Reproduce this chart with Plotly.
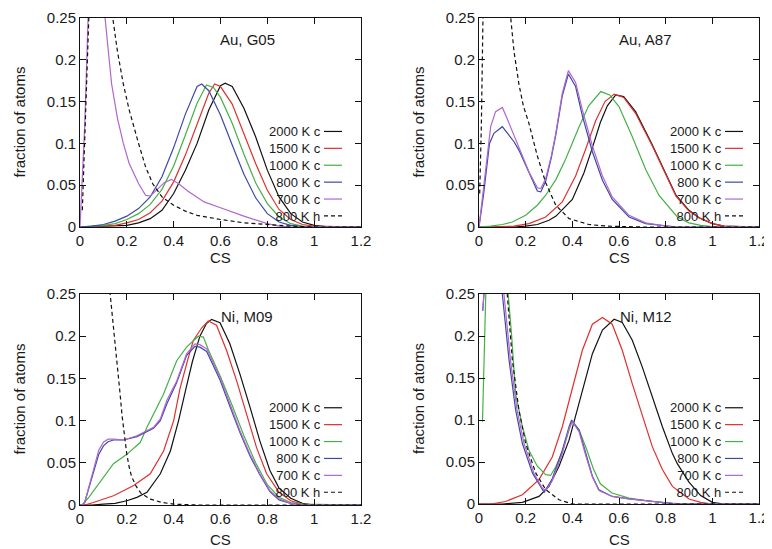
import plotly.graph_objects as go

# ---------------- data ----------------
series_names = ["2000 K c", "1500 K c", "1000 K c", "800 K c", "700 K c", "800 K h"]
panel_labels = ["Au, G05", "Au, A87", "Ni, M09", "Ni, M12"]
x_ticks = [0, 0.2, 0.4, 0.6, 0.8, 1.0, 1.2]
x_tick_text = ["0", "0.2", "0.4", "0.6", "0.8", "1", "1.2"]
y_ticks = [0, 0.05, 0.1, 0.15, 0.2, 0.25]
y_tick_text = ["0", "0.05", "0.1", "0.15", "0.2", "0.25"]

# Panel 1: Au, G05
g05_2000_x = [0, 0.05, 0.1, 0.15, 0.2, 0.25, 0.3, 0.35, 0.4, 0.45, 0.5, 0.55, 0.6, 0.62, 0.65, 0.7, 0.75, 0.8, 0.85, 0.9, 0.95, 1.0, 1.05, 1.1, 1.2]
g05_2000_y = [0, 0.0003, 0.0006, 0.001, 0.002, 0.005, 0.01, 0.02, 0.04, 0.068, 0.1, 0.14, 0.169, 0.172, 0.168, 0.142, 0.108, 0.068, 0.036, 0.016, 0.006, 0.002, 0.0006, 0.0002, 0]
g05_1500_x = [0, 0.05, 0.1, 0.15, 0.2, 0.25, 0.3, 0.35, 0.4, 0.45, 0.5, 0.55, 0.575, 0.6, 0.65, 0.7, 0.75, 0.8, 0.85, 0.9, 0.95, 1.0, 1.2]
g05_1500_y = [0, 0.0005, 0.001, 0.002, 0.005, 0.009, 0.017, 0.031, 0.054, 0.086, 0.123, 0.16, 0.171, 0.168, 0.147, 0.112, 0.076, 0.044, 0.021, 0.009, 0.003, 0.001, 0]
g05_1000_x = [0, 0.05, 0.1, 0.15, 0.2, 0.25, 0.3, 0.35, 0.4, 0.45, 0.5, 0.54, 0.57, 0.6, 0.65, 0.7, 0.75, 0.8, 0.85, 0.9, 0.95, 1.0, 1.2]
g05_1000_y = [0, 0.0007, 0.002, 0.004, 0.009, 0.016, 0.027, 0.045, 0.073, 0.11, 0.148, 0.17, 0.167, 0.155, 0.124, 0.087, 0.053, 0.028, 0.012, 0.004, 0.001, 0.0003, 0]
g05_800_x = [0, 0.05, 0.1, 0.15, 0.2, 0.25, 0.3, 0.35, 0.4, 0.45, 0.5, 0.52, 0.55, 0.6, 0.65, 0.7, 0.75, 0.8, 0.85, 0.9, 0.95, 1.0, 1.2]
g05_800_y = [0, 0.001, 0.003, 0.007, 0.013, 0.022, 0.036, 0.06, 0.095, 0.135, 0.168, 0.171, 0.163, 0.134, 0.098, 0.063, 0.035, 0.016, 0.006, 0.002, 0.0005, 0, 0]
g05_700_x = [0, 0.02, 0.04, 0.07, 0.107, 0.12, 0.135, 0.16, 0.185, 0.21, 0.25, 0.28, 0.3, 0.33, 0.36, 0.39, 0.42, 0.46, 0.5, 0.53, 0.6, 0.7, 0.8, 0.85, 0.9, 1.0, 1.2]
g05_700_y = [0, 0.12, 0.3, 0.36, 0.25, 0.21, 0.171, 0.13, 0.1, 0.076, 0.052, 0.038, 0.037, 0.045, 0.053, 0.057, 0.052, 0.043, 0.035, 0.03, 0.023, 0.013, 0.004, 0.001, 0, 0, 0]
g05_800h_x = [0.01, 0.02, 0.03, 0.04, 0.06, 0.1, 0.14, 0.16, 0.185, 0.21, 0.25, 0.28, 0.31, 0.35, 0.4, 0.45, 0.5, 0.6, 0.7, 0.8, 0.9, 1.0, 1.2]
g05_800h_y = [0.02, 0.1, 0.2, 0.27, 0.4, 0.4, 0.25, 0.21, 0.171, 0.14, 0.1, 0.072, 0.052, 0.036, 0.026, 0.019, 0.014, 0.009, 0.005, 0.003, 0.001, 0, 0]

# Panel 2: Au, A87
a87_2000_x = [0, 0.15, 0.2, 0.25, 0.3, 0.33, 0.4, 0.45, 0.486, 0.52, 0.55, 0.586, 0.62, 0.671, 0.743, 0.8, 0.844, 0.9, 0.943, 1.0, 1.05, 1.2]
a87_2000_y = [0, 0, 0.001, 0.003, 0.008, 0.013, 0.033, 0.065, 0.095, 0.125, 0.145, 0.158, 0.156, 0.138, 0.098, 0.063, 0.038, 0.02, 0.011, 0.004, 0.001, 0]
a87_1500_x = [0, 0.1, 0.15, 0.214, 0.286, 0.357, 0.414, 0.457, 0.5, 0.54, 0.579, 0.62, 0.671, 0.743, 0.8, 0.844, 0.9, 0.943, 1.0, 1.05, 1.2]
a87_1500_y = [0, 0.0005, 0.001, 0.004, 0.012, 0.03, 0.061, 0.093, 0.127, 0.15, 0.159, 0.155, 0.136, 0.097, 0.062, 0.037, 0.019, 0.011, 0.004, 0.001, 0]
a87_1000_x = [0, 0.05, 0.1, 0.143, 0.2, 0.25, 0.286, 0.33, 0.371, 0.429, 0.47, 0.522, 0.56, 0.6, 0.657, 0.714, 0.771, 0.85, 0.9, 0.95, 1.0, 1.2]
a87_1000_y = [0, 0.001, 0.003, 0.006, 0.014, 0.026, 0.038, 0.057, 0.081, 0.12, 0.145, 0.162, 0.158, 0.144, 0.108, 0.069, 0.038, 0.012, 0.005, 0.002, 0.0005, 0]
a87_800_x = [0, 0.02, 0.045, 0.064, 0.1, 0.12, 0.15, 0.171, 0.2, 0.214, 0.25, 0.265, 0.286, 0.31, 0.329, 0.357, 0.383, 0.414, 0.443, 0.486, 0.529, 0.571, 0.643, 0.714, 0.8, 0.85, 1.2]
a87_800_y = [0, 0.04, 0.1, 0.112, 0.12, 0.113, 0.102, 0.092, 0.074, 0.064, 0.043, 0.042, 0.055, 0.083, 0.11, 0.157, 0.183, 0.168, 0.133, 0.09, 0.056, 0.033, 0.012, 0.004, 0.001, 0, 0]
a87_700_x = [0, 0.02, 0.05, 0.071, 0.1, 0.12, 0.15, 0.171, 0.2, 0.214, 0.25, 0.265, 0.286, 0.31, 0.329, 0.357, 0.383, 0.414, 0.443, 0.486, 0.529, 0.571, 0.643, 0.714, 0.8, 0.85, 1.2]
a87_700_y = [0, 0.05, 0.12, 0.138, 0.143, 0.13, 0.11, 0.094, 0.075, 0.066, 0.047, 0.046, 0.058, 0.085, 0.112, 0.16, 0.187, 0.173, 0.14, 0.097, 0.061, 0.036, 0.014, 0.005, 0.001, 0, 0]
a87_800h_x = [0.003, 0.01, 0.017, 0.03, 0.06, 0.1, 0.136, 0.15, 0.171, 0.19, 0.214, 0.25, 0.286, 0.329, 0.386, 0.47, 0.55, 0.7, 1.2]
a87_800h_y = [0.04, 0.12, 0.25, 0.4, 0.5, 0.4, 0.25, 0.21, 0.171, 0.145, 0.124, 0.085, 0.053, 0.026, 0.01, 0.003, 0.001, 0, 0]

# Panel 3: Ni, M09
m09_2000_x = [0, 0.05, 0.1, 0.15, 0.2, 0.243, 0.286, 0.343, 0.386, 0.421, 0.45, 0.48, 0.512, 0.54, 0.562, 0.598, 0.64, 0.683, 0.726, 0.768, 0.811, 0.85, 0.9, 0.95, 1.0, 1.2]
m09_2000_y = [0, 0, 0.001, 0.002, 0.005, 0.009, 0.015, 0.037, 0.064, 0.1, 0.135, 0.17, 0.2, 0.215, 0.22, 0.216, 0.191, 0.155, 0.116, 0.076, 0.041, 0.02, 0.008, 0.002, 0, 0]
m09_1500_x = [0, 0.02, 0.057, 0.1, 0.143, 0.2, 0.229, 0.3, 0.357, 0.4, 0.427, 0.46, 0.484, 0.52, 0.548, 0.583, 0.626, 0.669, 0.71, 0.754, 0.797, 0.85, 0.9, 0.95, 1.0, 1.2]
m09_1500_y = [0, 0, 0.003, 0.007, 0.011, 0.019, 0.023, 0.037, 0.064, 0.1, 0.138, 0.172, 0.195, 0.21, 0.218, 0.213, 0.183, 0.147, 0.108, 0.068, 0.037, 0.015, 0.005, 0.001, 0, 0]
m09_1000_x = [0, 0.01, 0.04, 0.086, 0.143, 0.2, 0.257, 0.286, 0.3, 0.356, 0.413, 0.455, 0.505, 0.527, 0.548, 0.6, 0.65, 0.7, 0.75, 0.8, 0.85, 0.9, 0.95, 1.2]
m09_1000_y = [0, 0, 0.01, 0.027, 0.049, 0.06, 0.074, 0.092, 0.1, 0.131, 0.171, 0.187, 0.2, 0.199, 0.184, 0.152, 0.118, 0.082, 0.05, 0.024, 0.009, 0.003, 0.001, 0]
m09_800_x = [0, 0.01, 0.02, 0.057, 0.08, 0.1, 0.12, 0.143, 0.186, 0.243, 0.314, 0.343, 0.371, 0.413, 0.455, 0.491, 0.512, 0.541, 0.598, 0.64, 0.683, 0.726, 0.768, 0.811, 0.85, 0.9, 0.95, 1.2]
m09_800_y = [0, 0, 0.003, 0.038, 0.06, 0.07, 0.075, 0.077, 0.077, 0.081, 0.091, 0.1, 0.12, 0.145, 0.177, 0.188, 0.187, 0.182, 0.148, 0.117, 0.086, 0.058, 0.036, 0.016, 0.006, 0.002, 0, 0]
m09_700_x = [0, 0.01, 0.02, 0.057, 0.08, 0.1, 0.12, 0.143, 0.186, 0.243, 0.314, 0.343, 0.371, 0.413, 0.455, 0.491, 0.512, 0.541, 0.598, 0.64, 0.683, 0.726, 0.768, 0.811, 0.85, 0.9, 0.95, 1.2]
m09_700_y = [0, 0, 0.003, 0.041, 0.065, 0.0745, 0.078, 0.078, 0.077, 0.082, 0.092, 0.102, 0.124, 0.147, 0.179, 0.191, 0.19, 0.185, 0.151, 0.12, 0.088, 0.06, 0.037, 0.017, 0.007, 0.002, 0, 0]
m09_800h_x = [0.0, 0.05, 0.1, 0.13, 0.145, 0.157, 0.17, 0.18, 0.19, 0.2, 0.21, 0.22, 0.24, 0.26, 0.3, 0.35, 0.4, 0.5, 1.2]
m09_800h_y = [0.6, 0.5, 0.33, 0.25, 0.21, 0.171, 0.135, 0.105, 0.08, 0.06, 0.045, 0.034, 0.022, 0.014, 0.007, 0.003, 0.001, 0, 0]

# Panel 4: Ni, M12
m12_2000_x = [0, 0.1, 0.186, 0.257, 0.3, 0.343, 0.386, 0.414, 0.443, 0.486, 0.529, 0.579, 0.614, 0.657, 0.7, 0.743, 0.786, 0.829, 0.85, 0.9, 0.95, 1.0, 1.05, 1.2]
m12_2000_y = [0, 0, 0.002, 0.009, 0.021, 0.045, 0.076, 0.104, 0.135, 0.179, 0.207, 0.22, 0.216, 0.195, 0.163, 0.128, 0.092, 0.06, 0.048, 0.026, 0.01, 0.002, 0, 0]
m12_1500_x = [0, 0.05, 0.114, 0.186, 0.257, 0.314, 0.357, 0.4, 0.443, 0.486, 0.529, 0.571, 0.614, 0.657, 0.7, 0.743, 0.786, 0.829, 0.9, 0.95, 1.0, 1.2]
m12_1500_y = [0, 0, 0.003, 0.011, 0.029, 0.056, 0.092, 0.139, 0.183, 0.214, 0.222, 0.214, 0.183, 0.143, 0.104, 0.068, 0.041, 0.021, 0.006, 0.002, 0, 0]
m12_1000_x = [0.015, 0.02, 0.03, 0.06, 0.1, 0.125, 0.14, 0.157, 0.186, 0.214, 0.25, 0.286, 0.307, 0.33, 0.357, 0.397, 0.429, 0.46, 0.49, 0.52, 0.57, 0.643, 0.743, 0.85, 1.2]
m12_1000_y = [0.098, 0.15, 0.26, 0.5, 0.4, 0.25, 0.2, 0.131, 0.092, 0.064, 0.045, 0.035, 0.034, 0.045, 0.062, 0.098, 0.088, 0.066, 0.042, 0.024, 0.013, 0.007, 0.003, 0.0005, 0]
m12_800_x = [0.016, 0.03, 0.06, 0.1, 0.129, 0.157, 0.186, 0.229, 0.271, 0.279, 0.314, 0.357, 0.386, 0.397, 0.429, 0.457, 0.486, 0.514, 0.571, 0.643, 0.743, 0.85, 1.2]
m12_800_y = [0.23, 0.3, 0.4, 0.25, 0.171, 0.112, 0.072, 0.037, 0.017, 0.014, 0.03, 0.064, 0.092, 0.1, 0.088, 0.06, 0.033, 0.017, 0.009, 0.006, 0.003, 0, 0]
m12_700_x = [0.016, 0.03, 0.06, 0.107, 0.135, 0.163, 0.193, 0.235, 0.271, 0.286, 0.314, 0.357, 0.386, 0.4, 0.429, 0.457, 0.486, 0.514, 0.571, 0.643, 0.743, 0.85, 1.2]
m12_700_y = [0.23, 0.3, 0.4, 0.25, 0.171, 0.112, 0.072, 0.037, 0.019, 0.016, 0.028, 0.06, 0.09, 0.098, 0.086, 0.058, 0.032, 0.016, 0.009, 0.006, 0.003, 0, 0]
m12_800h_x = [0.05, 0.1, 0.121, 0.143, 0.171, 0.2, 0.243, 0.286, 0.343, 0.4, 1.2]
m12_800h_y = [0.6, 0.4, 0.25, 0.171, 0.112, 0.072, 0.037, 0.017, 0.005, 0, 0]

panel_series = [
    [(g05_2000_x, g05_2000_y), (g05_1500_x, g05_1500_y), (g05_1000_x, g05_1000_y),
     (g05_800_x, g05_800_y), (g05_700_x, g05_700_y), (g05_800h_x, g05_800h_y)],
    [(a87_2000_x, a87_2000_y), (a87_1500_x, a87_1500_y), (a87_1000_x, a87_1000_y),
     (a87_800_x, a87_800_y), (a87_700_x, a87_700_y), (a87_800h_x, a87_800h_y)],
    [(m09_2000_x, m09_2000_y), (m09_1500_x, m09_1500_y), (m09_1000_x, m09_1000_y),
     (m09_800_x, m09_800_y), (m09_700_x, m09_700_y), (m09_800h_x, m09_800h_y)],
    [(m12_2000_x, m12_2000_y), (m12_1500_x, m12_1500_y), (m12_1000_x, m12_1000_y),
     (m12_800_x, m12_800_y), (m12_700_x, m12_700_y), (m12_800h_x, m12_800h_y)],
]

# ---------------- style ----------------
# The page body has an 8 px margin, so the figure is drawn 8 px smaller and
# all window-pixel positions are shifted by that offset.
OFF = 8
W, H = 772 - OFF, 549 - OFF


def px(xp):
    return (xp - OFF) / W


def py(yp):
    return 1 - (yp - OFF) / H


colors = ["#111111", "#e0302c", "#46b046", "#3c4aa6", "#b066cc", "#111111"]
dashes = ["solid", "solid", "solid", "solid", "solid", "4px,3px"]
FONT = "Liberation Sans, Arial, sans-serif"
TXT = "#1a1a1a"
LEG_SIZE = 13
LINE_H = LEG_SIZE * 1.3  # plotly multi-line spacing in px

# panel frames in window pixels (left, right, top, bottom)
frames = [(80, 361, 18, 227), (479, 759, 18, 227), (80, 361, 294, 505), (479, 759, 294, 504)]
cs_y = [257, 257, 539, 539]
legend_center_px = [173.7, 173.7, 450.0, 450.0]
legend_right_px = [322, 723, 322, 723]

fig = go.Figure()
layout = dict(
    width=W, height=H,
    margin=dict(l=0, r=0, t=0, b=0, pad=0, autoexpand=False),
    paper_bgcolor="white", plot_bgcolor="white", showlegend=False,
    font=dict(family=FONT, size=15, color=TXT),
)
annotations = []
shapes = []

for i, (l, r, t, b) in enumerate(frames):
    n = "" if i == 0 else str(i + 1)
    xa, ya = "x" + n, "y" + n
    axis_common = dict(
        showline=True, linecolor="#111", linewidth=1, mirror="ticks",
        ticks="inside", ticklen=6, tickcolor="#111", tickwidth=1,
        showgrid=False, zeroline=False, fixedrange=True, automargin=False,
        ticklabeloverflow="allow",
        tickfont=dict(family=FONT, size=15, color=TXT),
    )
    layout["xaxis" + n] = dict(axis_common, domain=[px(l), px(r)], range=[0, 1.2],
                               tickvals=x_ticks, ticktext=x_tick_text, anchor=ya)
    layout["yaxis" + n] = dict(axis_common, domain=[py(b), py(t)], range=[0, 0.25],
                               tickvals=y_ticks, ticktext=y_tick_text, anchor=xa)

    for k, (sx, sy) in enumerate(panel_series[i]):
        fig.add_trace(go.Scatter(x=sx, y=sy, mode="lines", xaxis=xa, yaxis=ya,
                                 name=series_names[k], hoverinfo="skip",
                                 line=dict(color=colors[k], width=1.2, dash=dashes[k])))

    # panel label
    annotations.append(dict(text=panel_labels[i], xref=xa + " domain", yref=ya + " domain",
                            x=0.595, y=0.895, showarrow=False, xanchor="center", yanchor="middle",
                            font=dict(size=15, color=TXT)))
    # axis titles
    annotations.append(dict(text="fraction of atoms", xref="paper", yref="paper",
                            x=px(l - 61), y=py((t + b) / 2), textangle=-90,
                            showarrow=False, xanchor="center", yanchor="middle",
                            font=dict(size=15, color=TXT)))
    annotations.append(dict(text="CS", xref="paper", yref="paper",
                            x=px((l + r) / 2), y=py(cs_y[i]),
                            showarrow=False, xanchor="center", yanchor="middle",
                            font=dict(size=15, color=TXT)))
    # legend: one right-aligned multi-line text block + line samples to its right
    cy = legend_center_px[i]
    rx = legend_right_px[i]
    annotations.append(dict(text="<br>".join(series_names), xref="paper", yref="paper",
                            x=px(rx), y=py(cy), showarrow=False, align="right",
                            xanchor="right", yanchor="middle", borderpad=0,
                            font=dict(size=LEG_SIZE, color=TXT)))
    for k in range(len(series_names)):
        yy = cy + (k - 2.5) * LINE_H
        shapes.append(dict(type="line", xref="paper", yref="paper",
                           x0=px(rx + 2), x1=px(rx + 20), y0=py(yy), y1=py(yy),
                           line=dict(color=colors[k], width=1.2, dash=dashes[k])))

layout["annotations"] = annotations
layout["shapes"] = shapes
fig.update_layout(**layout)
fig.write_html("out.html")
